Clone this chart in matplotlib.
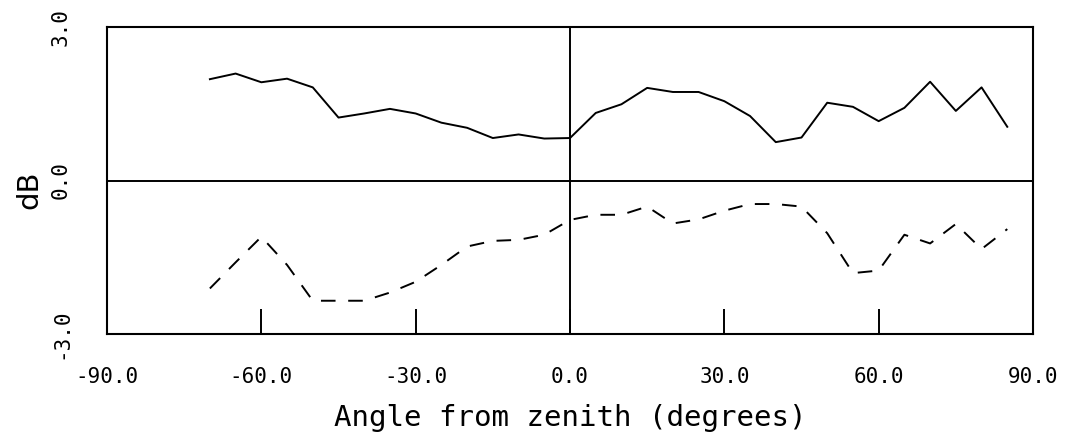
import matplotlib
matplotlib.use('Agg')
import matplotlib.pyplot as plt
import numpy as np

# angles every 5 degrees, from -70 to 85
angles = np.arange(-70, 90, 5)

upperDb = [1.98, 2.09, 1.92, 1.99, 1.82, 1.23, 1.31, 1.40, 1.31, 1.13,
           1.03, 0.83, 0.90, 0.82, 0.83, 1.32, 1.49, 1.81, 1.73, 1.73,
           1.55, 1.26, 0.75, 0.84, 1.52, 1.44, 1.16, 1.42, 1.93, 1.36,
           1.82, 1.05]

lowerDb = [-2.11, -1.60, -1.10, -1.65, -2.35, -2.35, -2.35, -2.19, -1.98, -1.65,
           -1.29, -1.18, -1.16, -1.06, -0.77, -0.67, -0.67, -0.51, -0.84, -0.76,
           -0.59, -0.46, -0.46, -0.51, -1.03, -1.81, -1.76, -1.06, -1.23, -0.85,
           -1.34, -0.95]

xTicks = [-90, -60, -30, 0, 30, 60, 90]
yTicks = [-3, 0, 3]

monoFont = 'DejaVu Sans Mono'

fig = plt.figure(figsize=(10.67, 4.38), dpi=100)
ax = fig.add_axes([107/1067, 104/438, 926/1067, 307/438])

ax.plot(angles, upperDb, color='black', lw=1.4)
ax.plot(angles, lowerDb, color='black', lw=1.4, dashes=(7.5, 6.5))

# cross lines through the origin
ax.axhline(0, color='black', lw=1.4)
ax.axvline(0, color='black', lw=1.4)

ax.set_xlim(-90, 90)
ax.set_ylim(-3, 3)

ax.set_xticks(xTicks)
ax.set_xticklabels(['%.1f' % t for t in xTicks], family=monoFont, fontsize=15)
ax.set_yticks(yTicks)
ax.set_yticklabels(['%.1f' % t for t in yTicks], family=monoFont, fontsize=15,
                   rotation=90, va='center')

ax.tick_params(axis='x', direction='in', length=18, width=1.4, pad=24)
ax.tick_params(axis='y', length=0, pad=26)

for sp in ax.spines.values():
    sp.set_linewidth(1.5)

ax.set_xlabel('Angle from zenith (degrees)', family=monoFont, fontsize=21, va='center')
ax.xaxis.set_label_coords(0.5, -0.274)
ax.set_ylabel('dB', family='DejaVu Sans', fontsize=21, va='center')
ax.yaxis.set_label_coords(-0.084, 0.47)

fig.savefig('out.png', dpi=100)
